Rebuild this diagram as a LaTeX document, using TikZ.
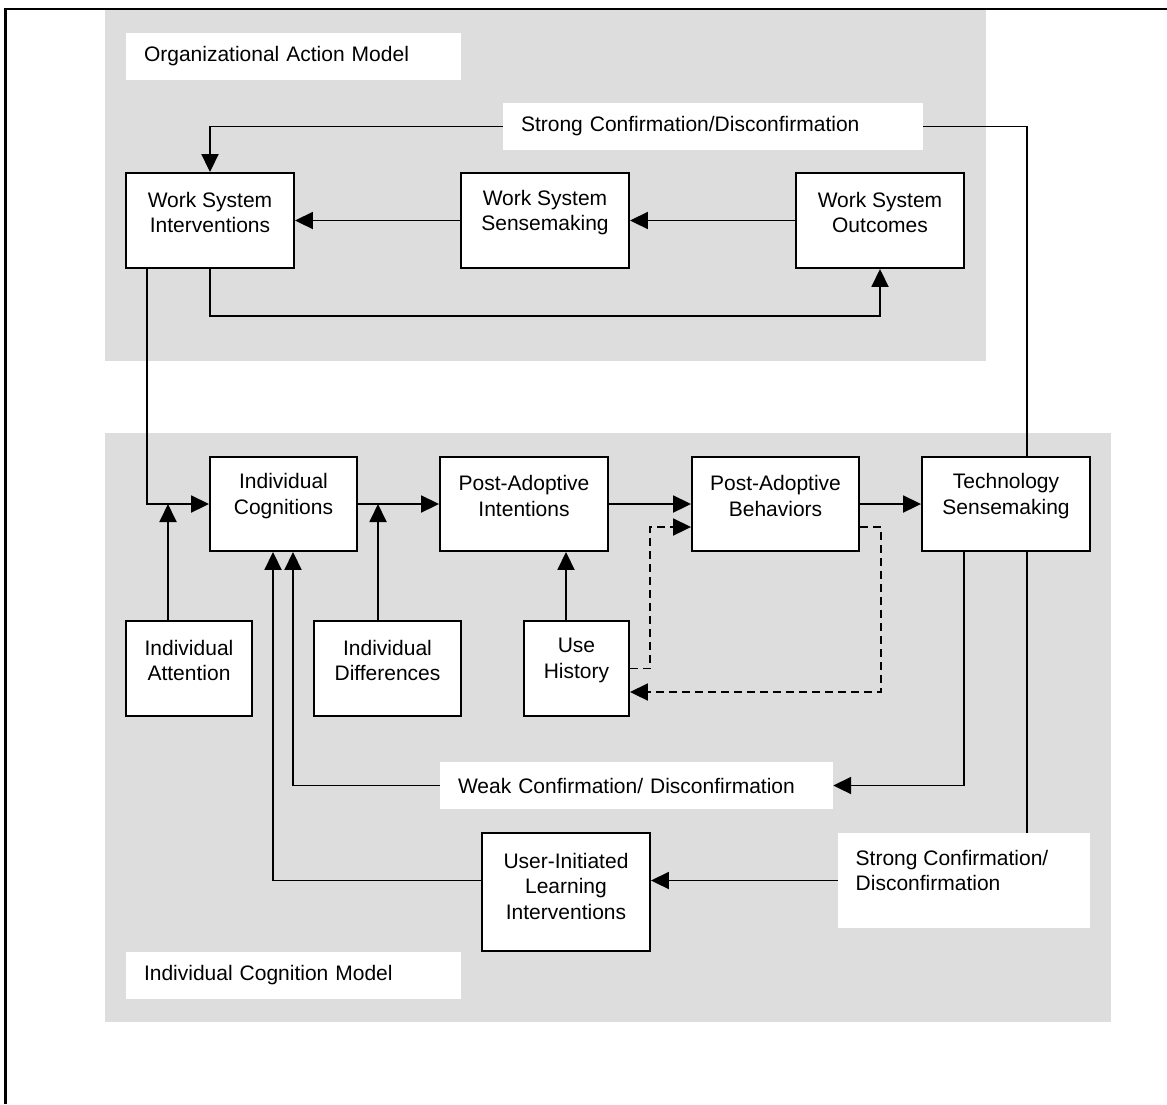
\documentclass[tikz,border=0pt]{standalone}
\usepackage{fontspec}
\setmainfont{Liberation Sans}
\usetikzlibrary{arrows.meta,backgrounds}
\definecolor{panelgray}{RGB}{221,221,221}
\tikzset{
  box/.style={draw, fill=white, line width=1.9pt, minimum height=95pt, inner sep=0pt},
  inbox/.style={align=center, yshift=8pt},
  tag/.style={fill=white, minimum height=47pt, inner xsep=18pt, inner ysep=0pt, align=left},
  wire/.style={line width=1.9pt},
  link/.style={wire, -{Triangle[length=18pt,width=17pt]}},
  dlink/.style={link, dash pattern=on 8pt off 5pt},
}

\begin{document}
\begin{tikzpicture}[x=1pt, y=-1pt, font=\fontsize{21pt}{25.5pt}\selectfont]
    \useasboundingbox (0,0) rectangle (1167,1104);
    % Drawing frame
    \draw[line width=2.6pt] (1167,9) -- (5.7,9) -- (5.7,1104);

    % Organizational action part
    \node[tag, text width=299pt] (oam) at (293.5,56.5) {Organizational Action Model};
    \node[tag, text width=384pt] (strongtop) at (713,126.5) {Strong Confirmation/Disconfirmation};
    \node[box, minimum width=168pt, label={[inbox]center:Work System\\Interventions}] (wsi) at (210,220.5) {};
    \node[box, minimum width=168pt, label={[inbox]center:Work System\\Sensemaking}] (wss) at (545,220.5) {};
    \node[box, minimum width=168pt, label={[inbox]center:Work System\\Outcomes}] (wso) at (880,220.5) {};

    % Individual cognition part
    \node[box, minimum width=147pt, minimum height=94pt, label={[inbox]center:Individual\\Cognitions}] (ic) at (283.5,504) {};
    \node[box, minimum width=168pt, minimum height=94pt, label={[inbox]center:Post-Adoptive\\Intentions}] (pai) at (524,504) {};
    \node[box, minimum width=167pt, minimum height=94pt, label={[inbox]center:Post-Adoptive\\Behaviors}] (pab) at (775.5,504) {};
    \node[box, minimum width=168pt, minimum height=94pt, label={[inbox]center:Technology\\Sensemaking}] (ts) at (1006,504) {};
    \node[box, minimum width=126pt, label={[inbox]center:Individual\\Attention}] (ia) at (189,668.5) {};
    \node[box, minimum width=147pt, label={[inbox]center:Individual\\Differences}] (idiff) at (387.5,668.5) {};
    \node[box, minimum width=105pt, label={[inbox]center:Use\\History}] (uh) at (576.5,668.5) {};
    \node[tag, text width=357pt] (weak) at (636.5,785.5) {Weak Confirmation/ Disconfirmation};
    \node[box, minimum width=168pt, minimum height=118pt, label={[inbox, yshift=-2pt]center:User-Initiated\\Learning\\Interventions}] (uli) at (566,892) {};
    \node[fill=white, minimum width=252pt, minimum height=95pt, inner sep=0pt,
          label={[align=left, xshift=-12pt, yshift=10pt]center:Strong Confirmation/\\Disconfirmation}] (strongbot) at (964,880.5) {};
    \node[tag, text width=299pt] (icm) at (293.5,975) {Individual Cognition Model};

    % Drawing connectors of top part
    \draw[link] (strongtop.west) -| (wsi.north);
    \draw[link] (wso.west) -- (wss.east);
    \draw[link] (wss.west) -- (wsi.east);
    \draw[link] (wsi.south) -- ++(0,47) -| (wso.south);
    \draw[link] ([xshift=-63pt]wsi.south) |- (ic.west);

    % Drawing connectors of bottom part
    \foreach \a/\b in {ic/pai, pai/pab, pab/ts}{
      \draw[link] (\a.east) -- (\b.west);
    }
    \coordinate (iaup) at ([xshift=-21pt]ia.north);
    \coordinate (idup) at ([xshift=-9.5pt]idiff.north);
    \coordinate (uhup) at ([xshift=-10.5pt]uh.north);
    \draw[link] (iaup) -- (iaup |- ic.west);
    \draw[link] (idup) -- (idup |- ic.east);
    \draw[link] (uhup) -- (uhup |- pai.south);
    \draw[dlink] (uh.east) -- ++(20,0) |- ([yshift=-23pt]pab.west);
    \draw[dlink] ([yshift=-23pt]pab.east) -- ++(21,0) |- ([yshift=-23.5pt]uh.east);
    \draw[link] ([xshift=-42pt]ts.south) |- (weak.east);
    \draw[link] (weak.west) -| ([xshift=9.5pt]ic.south);
    \draw[link] (strongbot.west) -- (strongbot.west -| uli.east);
    \coordinate (ulileft) at (uli.west |- strongbot.west);
    \draw[link] (ulileft) -| ([xshift=-10.5pt]ic.south);

    % Drawing panels behind
    \begin{scope}[on background layer]
      \fill[panelgray] (105,10) rectangle (986,361);
      \fill[panelgray] (105,433) rectangle (1111,1022);
      \draw[wire] (strongtop.east) -| ([xshift=63pt]strongbot.north);
    \end{scope}
  \end{tikzpicture}
\end{document}
